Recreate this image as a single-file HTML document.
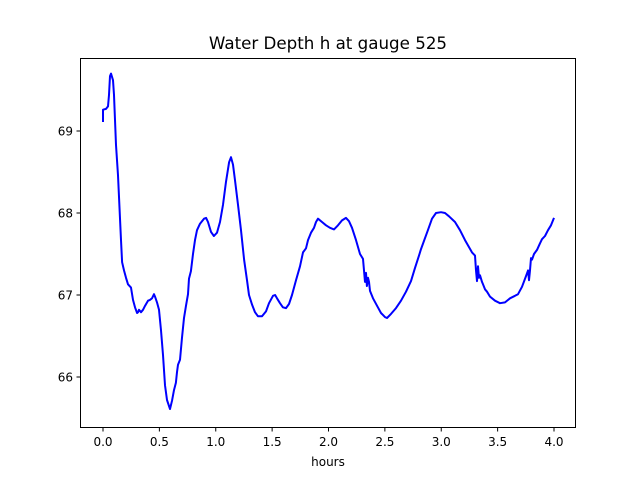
<!DOCTYPE html>
<html><head><meta charset="utf-8"><style>
body{margin:0;background:#fff}
svg{display:block;font-family:"DejaVu Sans","Liberation Sans",sans-serif}
</style></head><body>
<svg id="chart" width="640" height="480" viewBox="0 0 640 480">
<rect width="640" height="480" fill="#fff"/>
<text x="328" y="49" font-size="16.7" text-anchor="middle" fill="#000">Water Depth h at gauge 525</text>
<text x="328" y="466" font-size="12" text-anchor="middle" fill="#000">hours</text>
<g id="ticks"></g>
<path id="line" fill="none" stroke="#0000ff" stroke-width="2" stroke-linejoin="round"/>
<rect x="80.5" y="58.5" width="495" height="369" fill="none" stroke="#000" stroke-width="1"/>
</svg>
<script>
const hours=[0,0,0.027,0.044,0.053,0.062,0.071,0.089,0.098,0.115,0.133,0.160,0.169,0.186,0.204,0.222,0.248,0.266,0.284,0.302,0.310,0.319,0.337,0.355,0.373,0.399,0.417,0.435,0.452,0.461,0.479,0.497,0.514,0.532,0.550,0.568,0.594,0.612,0.630,0.647,0.656,0.665,0.683,0.701,0.718,0.736,0.754,0.763,0.780,0.798,0.816,0.834,0.860,0.896,0.914,0.931,0.958,0.984,1.011,1.038,1.064,1.091,1.118,1.135,1.153,1.171,1.197,1.224,1.251,1.277,1.295,1.322,1.348,1.375,1.410,1.446,1.472,1.508,1.526,1.543,1.570,1.596,1.623,1.650,1.676,1.712,1.747,1.774,1.800,1.818,1.845,1.871,1.889,1.907,1.942,1.978,2.013,2.049,2.084,2.120,2.155,2.182,2.208,2.244,2.279,2.306,2.315,2.324,2.333,2.341,2.350,2.359,2.368,2.395,2.430,2.466,2.501,2.519,2.554,2.599,2.643,2.687,2.732,2.767,2.803,2.820,2.847,2.882,2.918,2.953,2.998,3.033,3.069,3.122,3.166,3.211,3.273,3.299,3.308,3.317,3.326,3.335,3.344,3.361,3.370,3.388,3.406,3.432,3.477,3.521,3.565,3.610,3.654,3.681,3.716,3.752,3.770,3.778,3.787,3.796,3.805,3.823,3.849,3.876,3.894,3.920,3.947,3.973,4.000];
const depth=[69.11,69.26,69.27,69.30,69.44,69.67,69.70,69.62,69.44,68.83,68.46,67.67,67.40,67.30,67.21,67.13,67.09,66.94,66.85,66.78,66.79,66.82,66.79,66.82,66.87,66.93,66.94,66.96,67.01,66.98,66.91,66.82,66.57,66.27,65.90,65.72,65.61,65.71,65.84,65.93,66.06,66.15,66.21,66.48,66.72,66.87,67.01,67.20,67.29,67.50,67.67,67.79,67.87,67.93,67.94,67.89,67.77,67.72,67.76,67.89,68.10,68.38,68.62,68.68,68.59,68.40,68.10,67.79,67.43,67.18,67.00,66.88,66.79,66.74,66.74,66.80,66.90,66.99,67.00,66.96,66.90,66.85,66.84,66.89,67.00,67.18,67.35,67.52,67.57,67.67,67.76,67.82,67.89,67.93,67.89,67.85,67.82,67.80,67.85,67.91,67.94,67.90,67.82,67.67,67.50,67.44,67.30,67.16,67.27,67.11,67.21,67.16,67.05,66.96,66.87,66.78,66.73,66.72,66.77,66.84,66.93,67.04,67.17,67.33,67.48,67.56,67.66,67.79,67.93,68.00,68.01,68.00,67.96,67.89,67.79,67.67,67.52,67.48,67.30,67.17,67.35,67.21,67.24,67.16,67.13,67.07,67.04,66.98,66.93,66.90,66.91,66.96,66.99,67.01,67.10,67.23,67.30,67.18,67.30,67.45,67.43,67.50,67.55,67.63,67.68,67.72,67.79,67.85,67.94];
const xTicks=[0,0.5,1,1.5,2,2.5,3,3.5,4];
const xTickLabels=["0.0","0.5","1.0","1.5","2.0","2.5","3.0","3.5","4.0"];
const yTicks=[66,67,68,69];
const yTickLabels=["66","67","68","69"];

const X=h=>103+h*112.75;
const Y=v=>131-(v-69)*82;
const NS="http://www.w3.org/2000/svg";
const g=document.getElementById('ticks');
function mk(tag,attrs){const e=document.createElementNS(NS,tag);for(const k in attrs)e.setAttribute(k,attrs[k]);return e;}
xTicks.forEach((t,i)=>{
  const x=X(t);
  const l=mk('line',{x1:x,x2:x,y1:427.5,y2:431.5,stroke:'#000'});
  
  
  g.appendChild(l);
  const tx=mk('text',{x:x,y:446,'font-size':12,'text-anchor':'middle'});
  
  
  tx.textContent=xTickLabels[i];g.appendChild(tx);
});
yTicks.forEach((t,i)=>{
  const y=Y(t);
  const l=mk('line',{x1:76.5,x2:80.5,y1:y,y2:y,stroke:'#000'});
  
  
  g.appendChild(l);
  const tx=mk('text',{x:73,y:y+4.5,'font-size':12,'text-anchor':'end'});
  
  
  tx.textContent=yTickLabels[i];g.appendChild(tx);
});
document.getElementById('line').setAttribute('d',hours.map((h,i)=>(i?'L':'M')+X(h).toFixed(1)+','+Y(depth[i]).toFixed(1)).join(''));
</script>
</body></html>
